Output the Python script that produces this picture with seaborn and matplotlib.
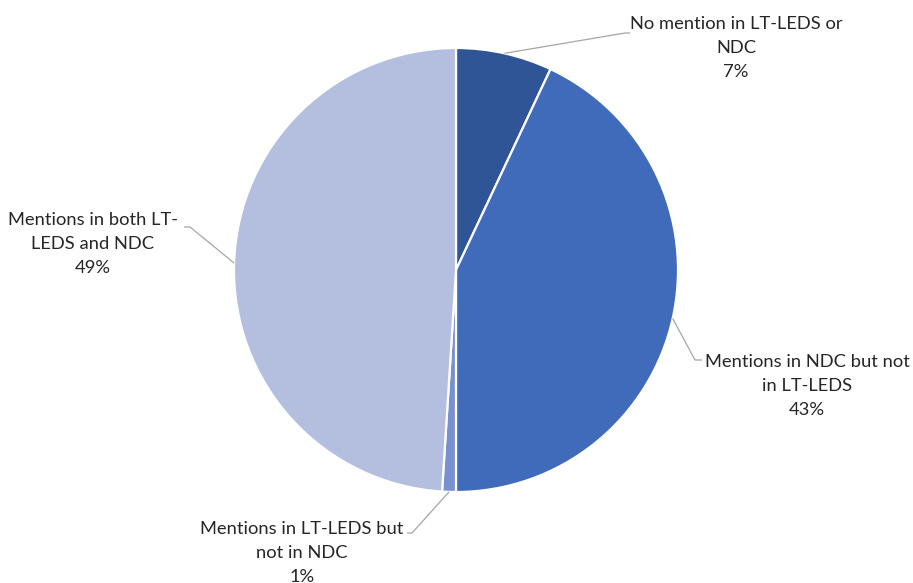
import numpy as np
import matplotlib
matplotlib.use("Agg")
import matplotlib.pyplot as plt
import seaborn as sns

categories = [
    "No mention in LT-LEDS or\nNDC",
    "Mentions in NDC but not\nin LT-LEDS",
    "Mentions in LT-LEDS but\nnot in NDC",
    "Mentions in both LT-\nLEDS and NDC",
]
shares = [7, 43, 1, 49]
colors = ["#2F5597", "#3F6BBA", "#7A91D0", "#B4BEDF"]

sns.set_theme(style="white")
plt.rcParams["font.family"] = ["Lato", "DejaVu Sans"]

W, H = 913, 583
fig = plt.figure(figsize=(W / 100, H / 100), dpi=100)
ax = fig.add_axes([0, 0, 1, 1])

cx, cy, r = 456, H - 270, 222
wedges, _ = ax.pie(
    shares, colors=colors, startangle=90, counterclock=False,
    center=(cx, cy), radius=r, frame=True,
    wedgeprops=dict(edgecolor="white", linewidth=1.6),
)
ax.set_xlim(0, W)
ax.set_ylim(0, H)
ax.set_aspect("equal")
ax.axis("off")

# label centre, elbow point and short tail of each leader line
layout = [
    dict(text=(736, H - 48), elbow=(625, H - 33), tail=(630, H - 33)),
    dict(text=(807, H - 386), elbow=(695, H - 360), tail=(702, H - 360)),
    dict(text=(302, H - 553), elbow=(412, H - 533), tail=(407, H - 533)),
    dict(text=(93, H - 244), elbow=(190, H - 227), tail=(184, H - 227)),
]

total = sum(shares)
for w, lab, val, lay in zip(wedges, categories, shares, layout):
    ang = np.deg2rad((w.theta1 + w.theta2) / 2)
    sx, sy = cx + r * np.cos(ang), cy + r * np.sin(ang)
    ex, ey = lay["elbow"]
    tx, ty = lay["tail"]
    ax.plot([sx, ex, tx], [sy, ey, ty], color="#A6A6A6", lw=0.9,
            solid_capstyle="butt")
    ax.text(lay["text"][0], lay["text"][1],
            f"{lab}\n{round(100 * val / total)}%",
            ha="center", va="center", fontsize=13.2, color="#262626",
            linespacing=1.65)

fig.savefig("out.png", dpi=100, facecolor="white")
